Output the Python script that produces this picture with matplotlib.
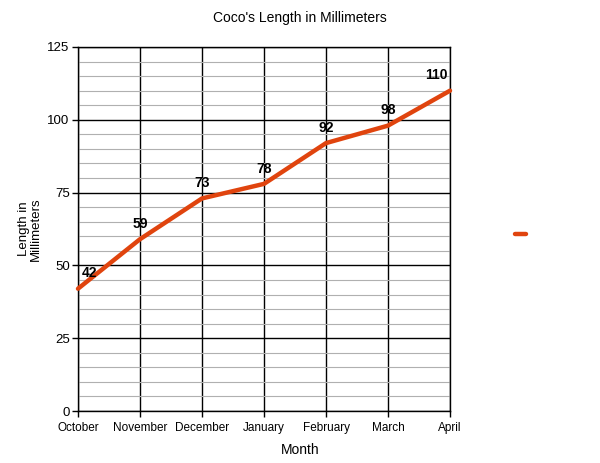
import matplotlib
matplotlib.use("Agg")
import matplotlib.pyplot as plt
from matplotlib.lines import Line2D

months = ["October", "November", "December", "January", "February", "March", "April"]
lengths = [42, 59, 73, 78, 92, 98, 110]
y_ticks = [0, 25, 50, 75, 100, 125]

plt.rcParams['font.family'] = ['Liberation Sans', 'DejaVu Sans']
color = "#E0440E"

fig = plt.figure(figsize=(6, 4.63), dpi=100)
ax = fig.add_axes([0.13, 0.1123, 0.62, 0.7862])
x = list(range(len(months)))
ax.plot(x, lengths, color=color, lw=3.2, solid_capstyle='round', zorder=3, clip_on=False)

for i, v in enumerate(lengths):
    if i == 0:
        ha, dx = 'left', 3
    elif i == len(lengths) - 1:
        ha, dx = 'right', -2
    else:
        ha, dx = 'center', 0
    ax.annotate(str(v), (i, v), xytext=(dx, 6), textcoords='offset points',
                ha=ha, va='bottom', fontsize=10, fontweight='bold', color='black')

ax.set_xlim(0, len(months) - 1)
ax.set_ylim(0, 125)
ax.set_xticks(x)
ax.set_xticklabels(months, fontsize=8.5)
ax.set_yticks(y_ticks)
ax.set_yticklabels([str(t) for t in y_ticks], fontsize=9.5)
ax.set_yticks(range(0, 126, 5), minor=True)
ax.tick_params(axis='y', which='minor', length=0)
ax.tick_params(axis='both', which='major', length=4, width=1, color='black', pad=2)
ax.tick_params(axis='x', which='major', pad=4)
ax.grid(True, which='minor', axis='y', color='#b0b0b0', lw=0.8)
ax.grid(True, which='major', axis='both', color='black', lw=1)
ax.set_axisbelow(True)
for s in ax.spines.values():
    s.set_color('black')
    s.set_linewidth(1)

ax.set_ylabel("Length in\nMillimeters", fontsize=9.5, labelpad=4, linespacing=1.0)
fig.text(0.5, 0.027, "Month", ha='center', va='center', fontsize=10)
fig.text(0.5, 0.962, "Coco's Length in Millimeters", ha='center', va='center', fontsize=10)

handle = Line2D([0], [0], color=color, lw=3.2, solid_capstyle='round')
fig.legend([handle], [""], loc='center', bbox_to_anchor=(0.868, 0.492), frameon=False,
           handlelength=0.8, handletextpad=0)

fig.savefig("out.png", dpi=100)
